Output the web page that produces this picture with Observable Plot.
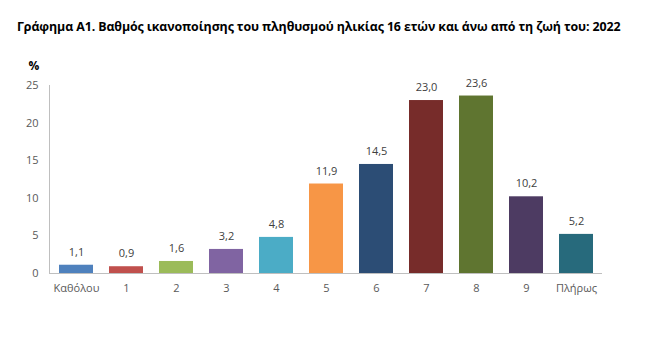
<!DOCTYPE html>
<html>
<head>
<meta charset="utf-8">
<script src="https://cdn.jsdelivr.net/npm/d3@7"></script>
<script src="https://cdn.jsdelivr.net/npm/@observablehq/plot@0.6"></script>
<style>
  html, body { margin: 0; padding: 0; background: #fff; }
  #wrap { position: relative; width: 648px; height: 351px; overflow: hidden; }
  #title { position: absolute; left: 17px; top: 18px; font-family: "Open Sans", sans-serif; font-weight: bold; font-size: 12.4px; color: #000; white-space: nowrap; letter-spacing: -0.1px; }
  #chart { position: absolute; left: 0; top: 0; }
</style>
</head>
<body>
<div id="wrap">
  <div id="chart"></div>
  <div id="title">Γράφημα Α1. Βαθμός ικανοποίησης του πληθυσμού ηλικίας 16 ετών και άνω από τη ζωή του: 2022</div>
</div>
<script>
const categories = ["Καθόλου", "1", "2", "3", "4", "5", "6", "7", "8", "9", "Πλήρως"];
const values = [1.1, 0.9, 1.6, 3.2, 4.8, 11.9, 14.5, 23.0, 23.6, 10.2, 5.2];
const colors = ["#4F81BD", "#C0504D", "#9BBB59", "#8064A2", "#4BACC6", "#F79646", "#2C4D75", "#772C2A", "#5F7530", "#4D3B62", "#276A7C"];
const yTicks = [0, 5, 10, 15, 20, 25];

const data = categories.map((c, i) => ({cat: c, value: values[i], color: colors[i]}));
const fmt = v => v.toFixed(1).replace(".", ",");

const chart = Plot.plot({
  width: 648,
  height: 351,
  marginLeft: 49,
  marginRight: 46,
  marginTop: 85,
  marginBottom: 78,
  style: {fontFamily: "Open Sans, sans-serif", fontSize: "11px", color: "#595959", background: "transparent"},
  x: {domain: categories, paddingInner: 0.32, paddingOuter: 0.16, label: null, tickSize: 0, tickPadding: 11},
  y: {domain: [0, 25], ticks: yTicks, label: null, tickSize: 0, tickPadding: 11},
  marks: [
    Plot.barY(data, {x: "cat", y: "value", fill: "color"}),
    Plot.frame({anchor: "left", stroke: "#BFBFBF"}),
    Plot.ruleY([0], {stroke: "#BFBFBF", strokeWidth: 1}),
    Plot.text(data, {x: "cat", y: "value", text: d => fmt(d.value), dy: -13, fill: "#404040", fontSize: 11}),
    Plot.text(["%"], {frameAnchor: "top-left", dx: -21, dy: -24, fill: "#000", fontSize: 12, fontWeight: "bold"})
  ]
});
document.getElementById("chart").appendChild(chart);
</script>
</body>
</html>
